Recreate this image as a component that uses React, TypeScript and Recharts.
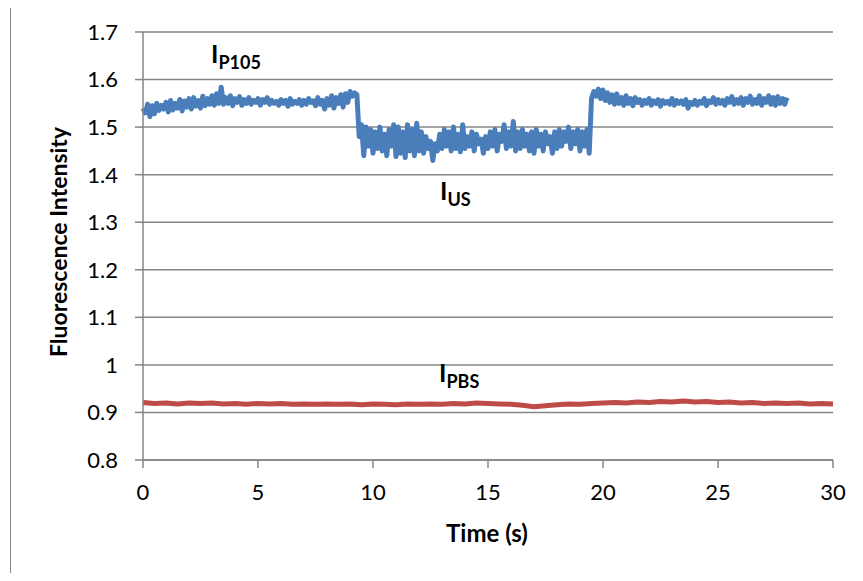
import { LineChart, Line, XAxis, YAxis, CartesianGrid } from 'recharts';

// sampling step of the traces (s)
const P105_STEP = 0.1;
const PBS_STEP = 0.5;

// blue trace, 0 .. 28 s (one row per second)
const p105Values = [
  1.54, 1.53, 1.548, 1.522, 1.545, 1.528, 1.55, 1.535, 1.546, 1.538,
  1.552, 1.532, 1.556, 1.536, 1.55, 1.54, 1.558, 1.534, 1.555, 1.542,
  1.56, 1.538, 1.562, 1.544, 1.556, 1.54, 1.565, 1.545, 1.56, 1.548,
  1.566, 1.546, 1.57, 1.55, 1.584, 1.548, 1.562, 1.55, 1.566, 1.545,
  1.56, 1.552, 1.564, 1.546, 1.558, 1.55, 1.562, 1.548, 1.556, 1.552,
  1.56, 1.546, 1.558, 1.552, 1.562, 1.548, 1.556, 1.55, 1.554, 1.546,
  1.558, 1.55, 1.556, 1.544, 1.56, 1.548, 1.554, 1.55, 1.558, 1.546,
  1.556, 1.548, 1.56, 1.552, 1.555, 1.545, 1.562, 1.548, 1.556, 1.538,
  1.56, 1.546, 1.566, 1.54, 1.562, 1.55, 1.568, 1.542, 1.57, 1.552,
  1.575, 1.565, 1.572, 1.568, 1.48, 1.505, 1.44, 1.5, 1.46, 1.495,
  1.445, 1.49, 1.455, 1.5, 1.45, 1.485, 1.44, 1.495, 1.46, 1.505,
  1.438, 1.5, 1.445, 1.49, 1.436, 1.505, 1.45, 1.495, 1.44, 1.508,
  1.45, 1.49, 1.445, 1.48, 1.455, 1.47, 1.43, 1.465, 1.45, 1.485,
  1.455, 1.495, 1.46, 1.49, 1.45, 1.5, 1.455, 1.485, 1.448, 1.505,
  1.455, 1.48, 1.46, 1.49, 1.45, 1.485, 1.465, 1.475, 1.445, 1.48,
  1.455, 1.49, 1.46, 1.495, 1.45, 1.485, 1.47, 1.505, 1.455, 1.49,
  1.46, 1.512, 1.45, 1.49, 1.455, 1.495, 1.46, 1.485, 1.45, 1.49,
  1.445, 1.495, 1.46, 1.485, 1.45, 1.49, 1.465, 1.48, 1.445, 1.49,
  1.455, 1.495, 1.46, 1.49, 1.47, 1.5, 1.455, 1.49, 1.465, 1.495,
  1.45, 1.49, 1.46, 1.495, 1.445, 1.56, 1.575, 1.565, 1.58, 1.56,
  1.578, 1.556, 1.572, 1.552, 1.568, 1.548, 1.57, 1.55, 1.562, 1.546,
  1.566, 1.55, 1.56, 1.545, 1.562, 1.552, 1.558, 1.546, 1.556, 1.55,
  1.56, 1.546, 1.555, 1.55, 1.558, 1.544, 1.556, 1.55, 1.554, 1.548,
  1.56, 1.546, 1.556, 1.55, 1.555, 1.548, 1.558, 1.54, 1.552, 1.548,
  1.556, 1.546, 1.554, 1.55, 1.56, 1.545, 1.555, 1.552, 1.562, 1.548,
  1.558, 1.55, 1.556, 1.546, 1.56, 1.552, 1.564, 1.548, 1.558, 1.55,
  1.562, 1.546, 1.56, 1.552, 1.565, 1.548, 1.558, 1.55, 1.566, 1.546,
  1.56, 1.552, 1.566, 1.548, 1.562, 1.546, 1.564, 1.55, 1.56, 1.548,
  1.562,
];

// red trace, 0 .. 30 s
const pbsValues = [
  0.921, 0.919, 0.92, 0.918, 0.92, 0.919, 0.92, 0.918, 0.919, 0.917,
  0.919, 0.918, 0.919, 0.917, 0.918, 0.917, 0.918, 0.917, 0.918, 0.916,
  0.918, 0.917, 0.916, 0.918, 0.917, 0.918, 0.917, 0.919, 0.918, 0.92,
  0.919, 0.918, 0.917, 0.915, 0.912, 0.914, 0.916, 0.918, 0.917, 0.919,
  0.92, 0.921, 0.92, 0.922, 0.921, 0.923, 0.922, 0.924, 0.922, 0.923,
  0.921, 0.922, 0.92, 0.921, 0.919, 0.92, 0.919, 0.92, 0.918, 0.919,
  0.918,
];

const xTicks = [0, 5, 10, 15, 20, 25, 30];
const yTicks = [0.8, 0.9, 1, 1.1, 1.2, 1.3, 1.4, 1.5, 1.6, 1.7];

const p105Data = p105Values.map((v, i) => ({ t: +(i * P105_STEP).toFixed(2), v }));
const pbsData = pbsValues.map((v, i) => ({ t: +(i * PBS_STEP).toFixed(2), v }));

const FONT = 'Lato, "Open Sans", sans-serif';
const GRID = '#868686';

const annot: React.CSSProperties = {
  position: 'absolute',
  fontFamily: FONT,
  fontWeight: 700,
  fontSize: 25,
  color: '#000',
  lineHeight: 1,
};
const sub: React.CSSProperties = { fontSize: 18, verticalAlign: -6 };

const YTick = (p: any) => (
  <text x={p.x} y={p.y} dy="0.36em" textAnchor="end" fontSize={22} fontFamily={FONT} fill="#000">
    {p.payload.value}
  </text>
);
const XTick = (p: any) => (
  <text x={p.x} y={p.y} dy="0.72em" textAnchor="middle" fontSize={22} fontFamily={FONT} fill="#000">
    {p.payload.value}
  </text>
);

export default function App() {
  return (
    <div style={{ position: 'relative', width: 863, height: 581, margin: -8, background: '#fff', overflow: 'hidden' }}>
      <div style={{ position: 'absolute', left: 10, top: 1, width: 849, height: 577, border: '1px solid #868686' }} />
      <div style={{ position: 'absolute', left: 0, top: 0 }}>
        <LineChart width={863} height={581} margin={{ top: 32, right: 30, bottom: 41, left: 33 }}>
          <CartesianGrid horizontal vertical={false} stroke={GRID} strokeWidth={1.5} />
          <XAxis
            type="number"
            dataKey="t"
            domain={[0, 30]}
            ticks={xTicks}
            allowDuplicatedCategory={false}
            height={80}
            stroke={GRID}
            strokeWidth={1.5}
            tickSize={8}
            tickMargin={16}
            tick={XTick}
          />
          <YAxis
            type="number"
            domain={[0.8, 1.7]}
            ticks={yTicks}
            width={110}
            stroke={GRID}
            strokeWidth={1.5}
            tickSize={8}
            tickMargin={17}
            tick={YTick}
          />
          <Line data={p105Data} dataKey="v" stroke="#4a7ebb" strokeWidth={5} dot={false} isAnimationActive={false} strokeLinejoin="round" />
          <Line data={pbsData} dataKey="v" stroke="#be4b48" strokeWidth={5} dot={false} isAnimationActive={false} strokeLinejoin="round" />
        </LineChart>
      </div>
      <div
        style={{
          position: 'absolute', left: 58, top: 242, transform: 'translate(-50%, -50%) rotate(-90deg)',
          fontFamily: FONT, fontWeight: 700, fontSize: 23, whiteSpace: 'nowrap', color: '#000',
        }}
      >
        Fluorescence Intensity
      </div>
      <div
        style={{
          position: 'absolute', left: 487, top: 532, transform: 'translate(-50%, -50%)',
          fontFamily: FONT, fontWeight: 700, fontSize: 24, whiteSpace: 'nowrap', color: '#000',
        }}
      >
        Time (s)
      </div>
      <div style={{ ...annot, left: 211, top: 41 }}>I<span style={sub}>P105</span></div>
      <div style={{ ...annot, left: 440, top: 178 }}>I<span style={sub}>US</span></div>
      <div style={{ ...annot, left: 439, top: 360 }}>I<span style={sub}>PBS</span></div>
    </div>
  );
}
